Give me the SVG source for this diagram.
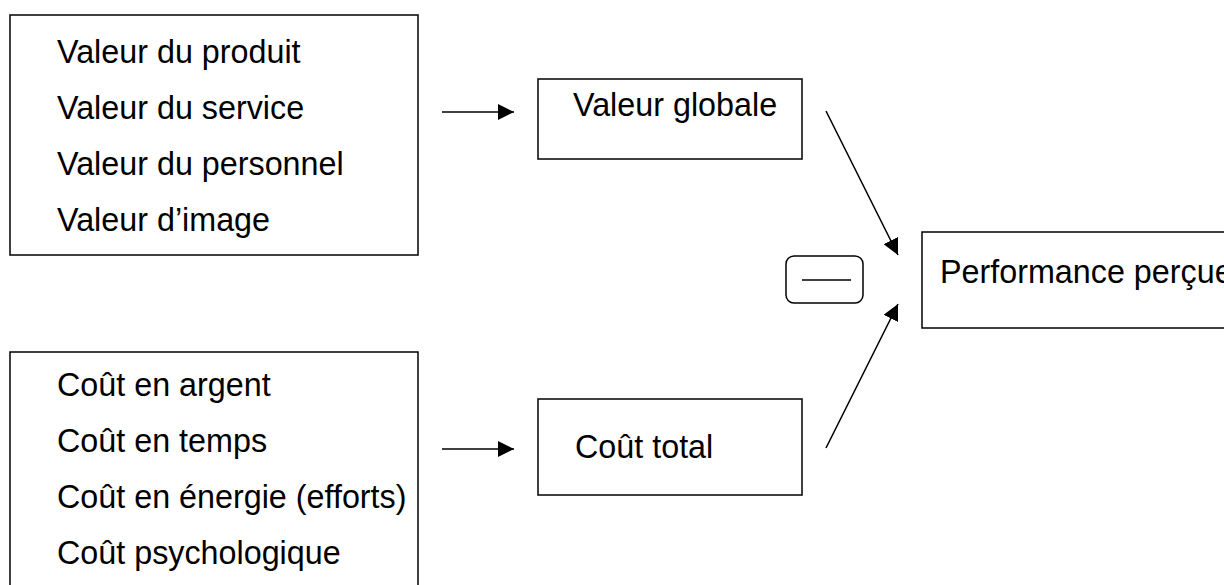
<svg xmlns="http://www.w3.org/2000/svg" width="1224" height="585" viewBox="0 0 1224 585">
<defs>
<style>
.box{fill:#fff;stroke:#000;stroke-width:1.5}
.t{font-family:"Liberation Sans",Arial,sans-serif;font-size:32.3px;fill:#000}
.c{stroke:#000;stroke-width:1.5;fill:none}
</style>
<marker id="ah" markerUnits="userSpaceOnUse" markerWidth="16" markerHeight="16" refX="16" refY="8" orient="auto" viewBox="0 0 16 16">
<path d="M0,0 L16,8 L0,16 z" fill="#000"/>
</marker>
</defs>
<rect width="1224" height="585" fill="#fff"/>
<g id="valeurs">
<rect class="box" x="10" y="15" width="408" height="240"/>
<text class="t" x="57" y="63">Valeur du produit</text>
<text class="t" x="57" y="119">Valeur du service</text>
<text class="t" x="57" y="175">Valeur du personnel</text>
<text class="t" x="57" y="231">Valeur d’image</text>
</g>
<g id="couts">
<rect class="box" x="10" y="352" width="408" height="260"/>
<text class="t" x="57" y="396">Coût en argent</text>
<text class="t" x="57" y="452">Coût en temps</text>
<text class="t" x="57" y="508">Coût en énergie (efforts)</text>
<text class="t" x="57" y="564">Coût psychologique</text>
</g>
<g id="valeur-globale">
<rect class="box" x="538" y="79" width="264" height="80"/>
<text class="t" x="573" y="116">Valeur globale</text>
</g>
<g id="cout-total">
<rect class="box" x="538" y="399" width="264" height="96"/>
<text class="t" x="575" y="458">Coût total</text>
</g>
<g id="performance">
<rect class="box" x="922" y="232" width="320" height="96"/>
<text class="t" x="940" y="283">Performance perçue</text>
</g>
<g id="moins">
<rect class="box" x="786" y="256" width="77" height="47" rx="8"/>
<line class="c" x1="802" y1="280" x2="851" y2="280"/>
</g>
<g id="connectors">
<line class="c" x1="442" y1="112" x2="514" y2="112" marker-end="url(#ah)"/>
<line class="c" x1="442" y1="449" x2="514" y2="449" marker-end="url(#ah)"/>
<line class="c" x1="826" y1="111" x2="898" y2="255" marker-end="url(#ah)"/>
<line class="c" x1="826" y1="448" x2="898" y2="304" marker-end="url(#ah)"/>
</g>
</svg>
